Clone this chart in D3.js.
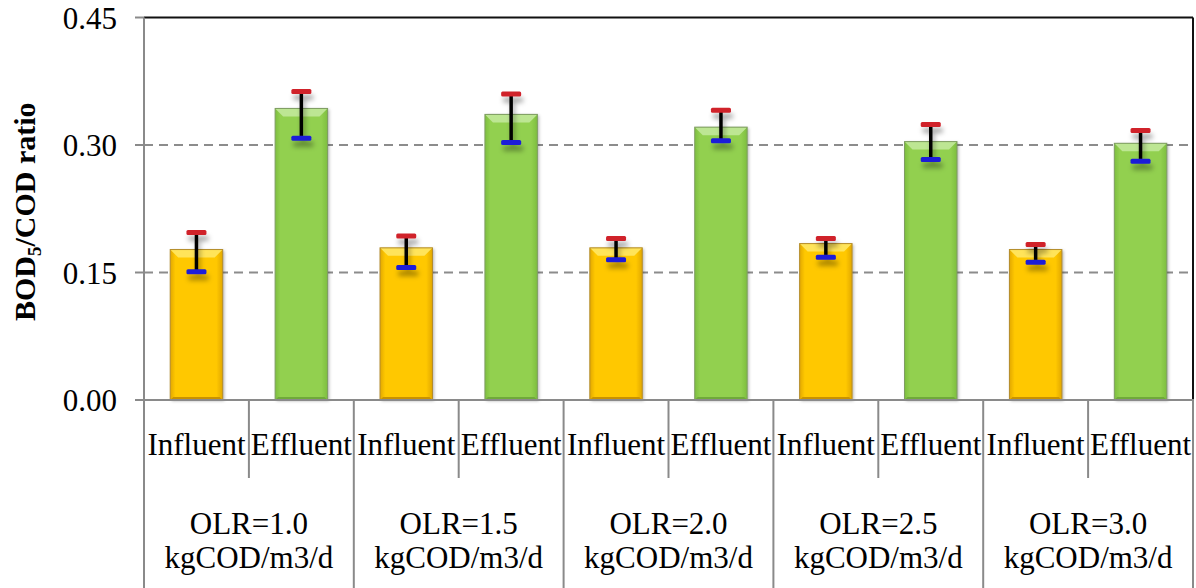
<!DOCTYPE html>
<html>
<head>
<meta charset="utf-8">
<script src="https://cdn.jsdelivr.net/npm/d3@7"></script>
<style>
  body { margin: 0; background: #fff; }
  svg { display: block; }
</style>
</head>
<body>
<div id="chart"></div>
<script>
// BOD5/COD ratio per OLR stage
const groups = ["OLR=1.0", "OLR=1.5", "OLR=2.0", "OLR=2.5", "OLR=3.0"];
const groupUnit = "kgCOD/m3/d";
const streams = ["Influent", "Effluent"];

const influentMean = [0.177, 0.179, 0.179, 0.184, 0.177];
const influentHigh = [0.197, 0.193, 0.190, 0.190, 0.183];
const influentLow  = [0.151, 0.156, 0.165, 0.168, 0.162];

const effluentMean = [0.343, 0.336, 0.321, 0.304, 0.302];
const effluentHigh = [0.363, 0.360, 0.341, 0.324, 0.317];
const effluentLow  = [0.308, 0.303, 0.305, 0.283, 0.281];

const yTicks = [0, 0.15, 0.30, 0.45];

const width = 1196, height = 588;
const plotLeft = 144, plotRight = 1193, plotTop = 17.5, plotBottom = 400;
const serif = "'Liberation Serif', 'Times New Roman', serif";

// build the flat table of bars
let bars = [];
groups.forEach((g, i) => {
    bars.push({ key: g + "|Influent", stream: "Influent", group: g, v: influentMean[i], hi: influentHigh[i], lo: influentLow[i] });
    bars.push({ key: g + "|Effluent", stream: "Effluent", group: g, v: effluentMean[i], hi: effluentHigh[i], lo: effluentLow[i] });
});

const x = d3.scaleBand()
    .domain(bars.map(d => d.key))
    .range([plotLeft, plotRight])
    .paddingInner(0.5)
    .paddingOuter(0.25);

const step = x.step();

const y = d3.scaleLinear().domain([0, 0.45]).range([plotBottom, plotTop]);

const svg = d3.select("#chart").append("svg")
    .attr("width", width)
    .attr("height", height);

const defs = svg.append("defs");

const palette = {
    Influent: { edge: "#E2A800", base: "#FFC800", light: "#FFE45A", dark: "#C99200", line: "#B38B2A" },
    Effluent: { edge: "#7DBE3E", base: "#92D050", light: "#BDE693", dark: "#6FA93A", line: "#7E9C62" }
};

streams.forEach(s => {
    const c = palette[s];
    const g = defs.append("linearGradient").attr("id", "grad" + s)
        .attr("x1", "0%").attr("x2", "100%").attr("y1", "0%").attr("y2", "0%");
    g.append("stop").attr("offset", "0%").attr("stop-color", c.edge);
    g.append("stop").attr("offset", "10%").attr("stop-color", c.base);
    g.append("stop").attr("offset", "88%").attr("stop-color", c.base);
    g.append("stop").attr("offset", "100%").attr("stop-color", c.edge);
});

const shadow = defs.append("filter").attr("id", "shadow")
    .attr("x", "-50%").attr("y", "-50%").attr("width", "200%").attr("height", "250%");
shadow.append("feDropShadow")
    .attr("dx", 2).attr("dy", 6).attr("stdDeviation", 2.5)
    .attr("flood-color", "#000").attr("flood-opacity", 0.35);

const barShadow = defs.append("filter").attr("id", "barShadow")
    .attr("x", "-20%").attr("y", "-10%").attr("width", "140%").attr("height", "120%");
barShadow.append("feDropShadow")
    .attr("dx", 1.5).attr("dy", 1).attr("stdDeviation", 1.5)
    .attr("flood-color", "#000").attr("flood-opacity", 0.3);

// plot frame (top and right are black)
svg.append("line").attr("x1", plotLeft).attr("x2", plotRight).attr("y1", plotTop).attr("y2", plotTop)
    .attr("stroke", "#111").attr("stroke-width", 2);
svg.append("line").attr("x1", plotRight).attr("x2", plotRight).attr("y1", plotTop).attr("y2", plotBottom)
    .attr("stroke", "#111").attr("stroke-width", 2);

// dashed grid
svg.append("g").selectAll("line")
    .data(yTicks.filter(t => t > 0 && t < 0.45))
    .join("line")
    .attr("x1", plotLeft).attr("x2", plotRight)
    .attr("y1", d => y(d)).attr("y2", d => y(d))
    .attr("stroke", "#8c8c8c").attr("stroke-width", 2)
    .attr("stroke-dasharray", "9,6");

// y axis
const axisColor = "#8a8a8a";
svg.append("line").attr("x1", plotLeft).attr("x2", plotLeft).attr("y1", plotTop).attr("y2", height)
    .attr("stroke", axisColor).attr("stroke-width", 2);
svg.append("g").selectAll("line")
    .data(yTicks)
    .join("line")
    .attr("x1", plotLeft - 9).attr("x2", plotLeft)
    .attr("y1", d => y(d)).attr("y2", d => y(d))
    .attr("stroke", axisColor).attr("stroke-width", 2);
svg.append("g").selectAll("text")
    .data(yTicks)
    .join("text")
    .attr("x", 117)
    .attr("y", d => y(d) + 11)
    .attr("text-anchor", "end")
    .style("font-family", serif)
    .style("font-size", "31px")
    .attr("fill", "#000")
    .text(d => d.toFixed(2));

// y label with subscript
const ylab = svg.append("text")
    .attr("transform", "translate(35," + ((plotTop + plotBottom) / 2 + 3) + ") rotate(-90)")
    .attr("text-anchor", "middle")
    .style("font-family", serif)
    .style("font-size", "30px")
    .style("font-weight", "bold");
ylab.append("tspan").text("BOD");
ylab.append("tspan").style("font-size", "19px").attr("dy", 6).text("5");
ylab.append("tspan").attr("dy", -6).text("/COD ratio");

// bars
const barG = svg.append("g");
bars.forEach(d => {
    const c = palette[d.stream];
    const x0 = x(d.key), w = x.bandwidth();
    const y0 = y(d.v), h = plotBottom - y0;
    const bev = 8;
    const g = barG.append("g");
    g.append("rect")
        .attr("x", x0).attr("y", y0).attr("width", w).attr("height", h)
        .attr("fill", "url(#grad" + d.stream + ")")
        .attr("filter", "url(#barShadow)");
    // top bevel
    g.append("path")
        .attr("d", `M${x0},${y0} L${x0 + w},${y0} L${x0 + w - bev},${y0 + bev} L${x0 + bev},${y0 + bev} Z`)
        .attr("fill", c.light);
    // bottom edge
    g.append("path")
        .attr("d", `M${x0},${plotBottom} L${x0 + w},${plotBottom} L${x0 + w - 3},${plotBottom - 3} L${x0 + 3},${plotBottom - 3} Z`)
        .attr("fill", c.dark);
    g.append("rect")
        .attr("x", x0).attr("y", y0).attr("width", w).attr("height", h)
        .attr("fill", "none").attr("stroke", c.line).attr("stroke-width", 1);
});

// error bars: black stem, red top cap, blue bottom cap
const errG = svg.append("g").attr("filter", "url(#shadow)");
bars.forEach(d => {
    const cx = x(d.key) + x.bandwidth() / 2;
    errG.append("line")
        .attr("x1", cx).attr("x2", cx)
        .attr("y1", y(d.hi)).attr("y2", y(d.lo))
        .attr("stroke", "#000").attr("stroke-width", 3.5);
    errG.append("rect")
        .attr("x", cx - 10).attr("y", y(d.hi) - 2.5).attr("width", 20).attr("height", 5)
        .attr("rx", 1.5)
        .attr("fill", "#D0202A");
    errG.append("rect")
        .attr("x", cx - 10).attr("y", y(d.lo) - 2.5).attr("width", 20).attr("height", 5)
        .attr("rx", 1.5)
        .attr("fill", "#1C1CD8");
});

// x axis line and category dividers
svg.append("line").attr("x1", plotLeft - 9).attr("x2", plotRight + 1).attr("y1", plotBottom).attr("y2", plotBottom)
    .attr("stroke", axisColor).attr("stroke-width", 2);

const divs = d3.range(bars.length + 1);
svg.append("g").selectAll("line")
    .data(divs)
    .join("line")
    .attr("x1", i => plotLeft + i * step).attr("x2", i => plotLeft + i * step)
    .attr("y1", plotBottom)
    .attr("y2", i => (i % 2 === 0 ? height : 478))
    .attr("stroke", axisColor).attr("stroke-width", 2);

// stream labels
svg.append("g").selectAll("text")
    .data(bars)
    .join("text")
    .attr("x", d => x(d.key) + x.bandwidth() / 2)
    .attr("y", 455)
    .attr("text-anchor", "middle")
    .style("font-family", serif)
    .style("font-size", "31px")
    .text(d => d.stream);

// group labels (two lines)
const gl = svg.append("g").selectAll("text")
    .data(groups)
    .join("text")
    .attr("text-anchor", "middle")
    .style("font-family", serif)
    .style("font-size", "31px");
gl.append("tspan")
    .attr("x", (d, i) => plotLeft + (2 * i + 1) * step)
    .attr("y", 534)
    .text(d => d);
gl.append("tspan")
    .attr("x", (d, i) => plotLeft + (2 * i + 1) * step)
    .attr("y", 568)
    .text(groupUnit);
</script>
</body>
</html>
